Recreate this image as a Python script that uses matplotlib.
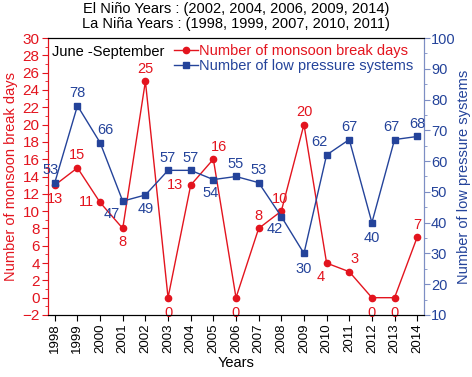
import matplotlib
matplotlib.use("Agg")
import matplotlib.pyplot as plt
from matplotlib.ticker import MultipleLocator

plt.rcParams['font.family'] = ['Liberation Sans', 'DejaVu Sans']

years = list(range(1998, 2015))
break_days = [13, 15, 11, 8, 25, 0, 13, 16, 0, 8, 10, 20, 4, 3, 0, 0, 7]
low_pressure = [53, 78, 66, 47, 49, 57, 57, 54, 55, 53, 42, 30, 62, 67, 40, 67, 68]

# label placement (dx, dy in points)
red_off = [(0, -10), (0, 9), (-10, 0), (0, -10), (0, 9), (0, -11), (-11, 0), (4, 9),
           (0, -11), (0, 9), (-1, 9), (0, 9), (-4, -10), (4, 9), (0, -11), (0, -11), (0, 9)]
blue_off = [(-3, 9), (0, 9), (4, 9), (-8, -9), (0, -10), (0, 9), (0, 9), (-2, -10),
            (0, 9), (0, 9), (-5, -9), (0, -11), (-5, 9), (0, 9), (0, -11), (-2, 9), (0, 9)]

RED = '#e3141e'
BLUE = '#24439a'
SPINE_BLUE = '#7d8ec4'

fig = plt.figure(figsize=(4.72, 3.77), dpi=100)
ax = fig.add_axes([48/472, 1 - 315/377, (424-48)/472, (315-38)/377])
ax2 = ax.twinx()

l1, = ax.plot(years, break_days, '-o', color=RED, lw=1.0, ms=4.5,
              label='Number of monsoon break days', zorder=3)
l2, = ax2.plot(years, low_pressure, '-s', color=BLUE, lw=1.0, ms=4.5,
               label='Number of low pressure systems', zorder=3)

for x, y, (dx, dy) in zip(years, break_days, red_off):
    ax.annotate(str(y), (x, y), xytext=(dx, dy), textcoords='offset points',
                ha='center', va='center', color=RED, fontsize=10.5)
for x, y, (dx, dy) in zip(years, low_pressure, blue_off):
    ax2.annotate(str(y), (x, y), xytext=(dx, dy), textcoords='offset points',
                 ha='center', va='center', color=BLUE, fontsize=10.5)

ax.set_xlim(1997.7, 2014.3)
ax.set_ylim(-2, 30)
ax2.set_ylim(10, 100)

ax.set_xticks(years)
ax.set_xticklabels([str(y) for y in years], rotation=90, fontsize=9.5)
ax.yaxis.set_major_locator(MultipleLocator(2))
ax.yaxis.set_minor_locator(MultipleLocator(1))
ax2.yaxis.set_major_locator(MultipleLocator(10))
ax2.yaxis.set_minor_locator(MultipleLocator(5))

ax.tick_params(axis='y', colors=RED, labelsize=11, direction='out', length=4, pad=2)
ax.tick_params(axis='y', which='minor', colors=RED, length=2)
ax.tick_params(axis='x', direction='out', length=4, labelsize=9.5, pad=2)
ax2.tick_params(axis='y', colors=BLUE, labelsize=10.5, direction='out', length=4, pad=1)
ax2.tick_params(axis='y', which='minor', colors=SPINE_BLUE, length=2)
ax2.tick_params(axis='y', which='major', color=SPINE_BLUE)

ax.spines['left'].set_color(RED)
ax2.spines['left'].set_color(RED)
ax2.spines['right'].set_color(SPINE_BLUE)
ax.spines['right'].set_color(SPINE_BLUE)

ax.set_ylabel('Number of monsoon break days', color=RED, fontsize=10.5, labelpad=3)
ax2.set_ylabel('Number of low pressure systems', color=BLUE, fontsize=10.5, labelpad=1)
ax.set_xlabel('Years', fontsize=10.5, labelpad=2)

ax.text(0.01, 0.975, 'June -September', transform=ax.transAxes, ha='left', va='top',
        fontsize=10.5)

leg = ax.legend(handles=[l1, l2], loc='upper right', bbox_to_anchor=(0.995, 1.01),
                frameon=False, fontsize=10.5, handlelength=1.6, handletextpad=0.1,
                borderaxespad=0.2, labelspacing=0.05)
for t, c in zip(leg.get_texts(), [RED, BLUE]):
    t.set_color(c)

fig.text(0.5, 1 - 9/377, 'El Niño Years : (2002, 2004, 2006, 2009, 2014)',
         ha='center', va='center', fontsize=10.5)
fig.text(0.5, 1 - 24/377, 'La Niña Years : (1998, 1999, 2007, 2010, 2011)',
         ha='center', va='center', fontsize=10.5)

fig.savefig('out.png', dpi=100)
